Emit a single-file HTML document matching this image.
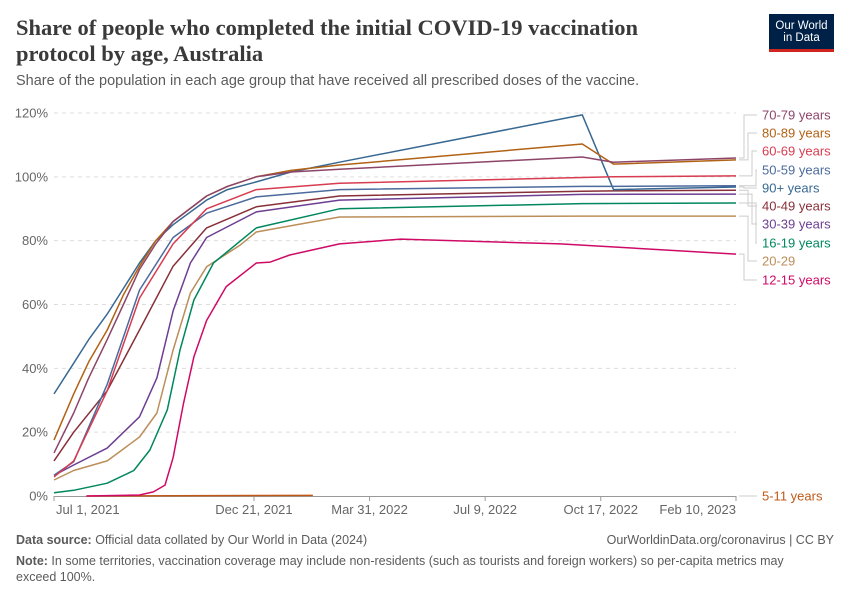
<!DOCTYPE html>
<html><head><meta charset="utf-8"><style>
body{margin:0;background:#fff;font-family:"Liberation Sans",sans-serif}
#wrap{position:relative;width:850px;height:600px;overflow:hidden}
.t{position:absolute;margin:0}
</style></head><body>
<div id="wrap">
<div class="t" style="left:16px;top:15px;width:660px;font-family:'Liberation Serif',serif;font-size:22.5px;font-weight:bold;line-height:26px;color:#3a3a3a">Share of people who completed the initial COVID-19 vaccination protocol by age, Australia</div>
<div class="t" style="left:16px;top:73px;font-size:14.5px;color:#5b5b5b">Share of the population in each age group that have received all prescribed doses of the vaccine.</div>
<div class="t" style="left:769px;top:14px;width:65px;height:38px;background:#002147;border-bottom:3px solid #ce261e;box-sizing:border-box;color:#fff;font-size:11.5px;line-height:12px;text-align:center;padding-top:6px">Our World<br>in Data</div>
<svg id="chart" width="850" height="600" style="position:absolute;left:0;top:0"></svg>
<div class="t" style="left:16px;top:533px;font-size:12.5px;color:#5b5b5b"><b>Data source:</b> Official data collated by Our World in Data (2024)</div>
<div class="t" style="right:16px;top:533px;font-size:12.5px;color:#5b5b5b">OurWorldinData.org/coronavirus | CC BY</div>
<div class="t" style="left:16px;top:553px;width:800px;font-size:12.5px;line-height:16px;color:#5b5b5b"><b>Note:</b> In some territories, vaccination coverage may include non-residents (such as tourists and foreign workers) so per-capita metrics may exceed 100%.</div>
</div>
<script>
const yTicks=[0,20,40,60,80,100,120];
const xTickDays=[0,173,273,373,473,590];
const xTickLabels=["Jul 1, 2021","Dec 21, 2021","Mar 31, 2022","Jul 9, 2022","Oct 17, 2022","Feb 10, 2023"];
const topDays=[0,17,30,46,60,74,88,103,132,150,175,205,247,457,484,590];
const v90=[32,41.6,49,57,65,73,80,85,92.7,96,98.4,101.5,104.6,119.4,96,96.8];
const v80=[17.5,32,42,52,63,72,80,86,94,97,100,102,103.7,110.3,104,105.3];
const v70=[13.5,26,37,49,60,71,79,86,94,97,100,101.5,102.4,106.2,104.6,105.9];
const commonDays=[0,17,46,74,103,132,175,247,457,484,590];
const v60=[6,11,33,62,79,90,96,98,99.8,100,100.3];
const v50=[6.5,10.7,35,64.5,81,88.6,93.7,96,97,97,97.2];
const v40=[11,20,33,52,72,84,90.6,94,95.5,95.6,95.8];
const d30=[0,17,46,74,89,103,118,132,175,247,457,590];
const v30=[6.5,9.7,15,24.8,37,58,73,81,89,92.7,94.5,94.6];
const d20=[0,17,46,74,89,103,118,132,161,175,247,457,590];
const v20=[5,8,11,18.5,26,45.7,63.6,71.8,78.6,82.7,87.4,87.7,87.7];
const d16=[0,17,46,69,83,98,109,121,138,175,247,457,590];
const v16=[1,1.8,4,8,14.4,27,45.7,61.4,73,84,90,91.6,91.8];
const d12=[28,74,86,96,103,112,121,132,149,175,187,204,247,300,438,590];
const v12=[0,0.3,1.3,3.4,12,29,43.6,55,65.6,73,73.3,75.5,79,80.5,79,75.8];
const d5=[28,224];
const v5=[0,0.2];
const series=[
 {n:"70-79 years",c:"#8C4569",d:topDays,v:v70,ly:115},
 {n:"80-89 years",c:"#B16214",d:topDays,v:v80,ly:133},
 {n:"60-69 years",c:"#D73C50",d:commonDays,v:v60,ly:151},
 {n:"50-59 years",c:"#4C6A9C",d:commonDays,v:v50,ly:170},
 {n:"90+ years",c:"#386892",d:topDays,v:v90,ly:188},
 {n:"40-49 years",c:"#883039",d:commonDays,v:v40,ly:206},
 {n:"30-39 years",c:"#6D3E91",d:d30,v:v30,ly:224},
 {n:"16-19 years",c:"#00875E",d:d16,v:v16,ly:243},
 {n:"20-29",c:"#BC8E5A",d:d20,v:v20,ly:261},
 {n:"12-15 years",c:"#CF0A66",d:d12,v:v12,ly:280},
 {n:"5-11 years",c:"#C05917",d:d5,v:v5,ly:496}
];
const X0=54,X1=736,Y0=496,Y1=113,DMAX=590,VMAX=120;
const xs=d=>X0+(X1-X0)*d/DMAX, ys=v=>Y0-(Y0-Y1)*v/VMAX;
const svg=document.getElementById('chart');const NS="http://www.w3.org/2000/svg";
function mk(t,a,txt){const e=document.createElementNS(NS,t);for(const k in a)e.setAttribute(k,a[k]);if(txt!=null)e.textContent=txt;svg.appendChild(e);return e;}
yTicks.forEach(t=>{
 if(t>0){const g=mk('line',{x1:X0,x2:X1,y1:ys(t),y2:ys(t),stroke:'#ddd','stroke-dasharray':'4,4'});
 
 }
 const l=mk('text',{x:48,y:ys(t)+4.5,'text-anchor':'end','font-size':13,fill:'#666','font-family':'Liberation Sans'},t+'%');
 
 
});
const ax=mk('line',{x1:X0,x2:X1,y1:Y0+0.5,y2:Y0+0.5,stroke:'#999'});


xTickDays.forEach((d,i)=>{
 const x=xs(d);
 const tk=mk('line',{x1:x,x2:x,y1:Y0,y2:Y0+5,stroke:'#999'});
 
 
 const anchor=i==0?'start':(i==xTickDays.length-1?'end':'middle');
 const lab=mk('text',{x:i==0?x+2:x,y:514,'text-anchor':anchor,'font-size':13,fill:'#666','font-family':'Liberation Sans'},xTickLabels[i]);
 
 
});
const lx=[744,748,752,756,744,748,752,756,748,744,748];
series.slice().reverse().forEach(s=>{
 const p=s.d.map((d,k)=>(k?'L':'M')+xs(d).toFixed(1)+','+ys(s.v[k]).toFixed(1)).join('');
 const path=mk('path',{d:p,fill:'none',stroke:s.c,'stroke-width':1.5,'stroke-linejoin':'round'});
 
 
});
series.forEach((s,i)=>{
 const ey=s.d[s.d.length-1]==DMAX?ys(s.v[s.v.length-1]):Y0;
 const ex=lx[i];
 const con=mk('path',{d:`M739,${ey}H${ex}V${s.ly}H757`,fill:'none',stroke:'#ccc','stroke-width':1});
 
 
 const t=mk('text',{x:762,y:s.ly+4.5,'font-size':13,fill:s.c,'font-family':'Liberation Sans'},s.n);
 
 
});
</script>
</body></html>
